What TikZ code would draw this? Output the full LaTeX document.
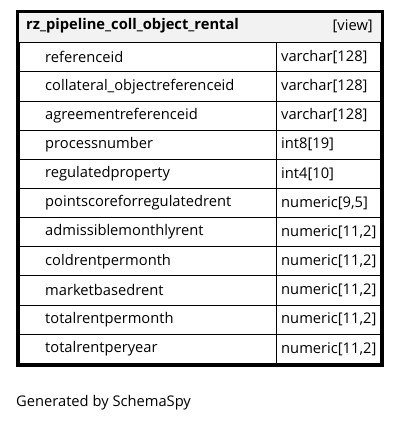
\documentclass[tikz,border=0pt]{standalone}
\usepackage{fontspec}
\setmainfont{Open Sans}
\definecolor{headfill}{HTML}{F2F2F2}
\newcommand\tabfont{\fontsize{14.7}{17}\selectfont}
\begin{document}
\begin{tikzpicture}[x=1pt,y=-1pt,
  cell/.style={draw=black,line width=0.9pt,inner sep=0pt},
  colname/.style={anchor=west,font=\tabfont,inner sep=0pt},
  coltype/.style={anchor=west,font=\tabfont,inner sep=0pt},
  headtext/.style={anchor=west,font=\tabfont\bfseries,inner sep=0pt},
  outer/.style={draw=black,line width=2.6pt}]
\useasboundingbox (0,0) rectangle (400,423);
% header
\fill[headfill] (17.5,11.5) rectangle (382.5,42.5);
\node[headtext] (title) at (26,26) {rz\_pipeline\_coll\_object\_rental};
\node[anchor=east,font=\tabfont,inner sep=0pt] (kind) at (373,26) {[view]};
% rows
\def\rowh{29.15}
\foreach \n/\t [count=\i from 0] in {referenceid/varchar[128],
  collateral\_objectreferenceid/varchar[128],
  agreementreferenceid/varchar[128],
  processnumber/int8[19],
  regulatedproperty/int4[10],
  pointscoreforregulatedrent/{numeric[9,5]},
  admissiblemonthlyrent/{numeric[11,2]},
  coldrentpermonth/{numeric[11,2]},
  marketbasedrent/{numeric[11,2]},
  totalrentpermonth/{numeric[11,2]},
  totalrentperyear/{numeric[11,2]}} {
  \pgfmathsetmacro\ya{42.7+\i*\rowh}
  \pgfmathsetmacro\yb{\ya+\rowh}
  \pgfmathsetmacro\ym{\ya+\rowh/2}
  \draw[cell] (19.5,\ya) rectangle (276.8,\yb);
  \draw[cell] (276.8,\ya) rectangle (380.5,\yb);
  \node[colname] (name\i) at (45,\ym) {\n};
  \node[coltype] (type\i) at (281,\ym) {\t};
}
% table frame
\draw[outer] (17.5,11.5) rectangle (382.5,365.5);
\draw[line width=0.9pt] (17.5,42.7) -- (382.5,42.7);
\node[anchor=west,font=\tabfont,inner sep=0pt] (footer) at (16,403) {Generated by SchemaSpy};
\end{tikzpicture}
\end{document}
